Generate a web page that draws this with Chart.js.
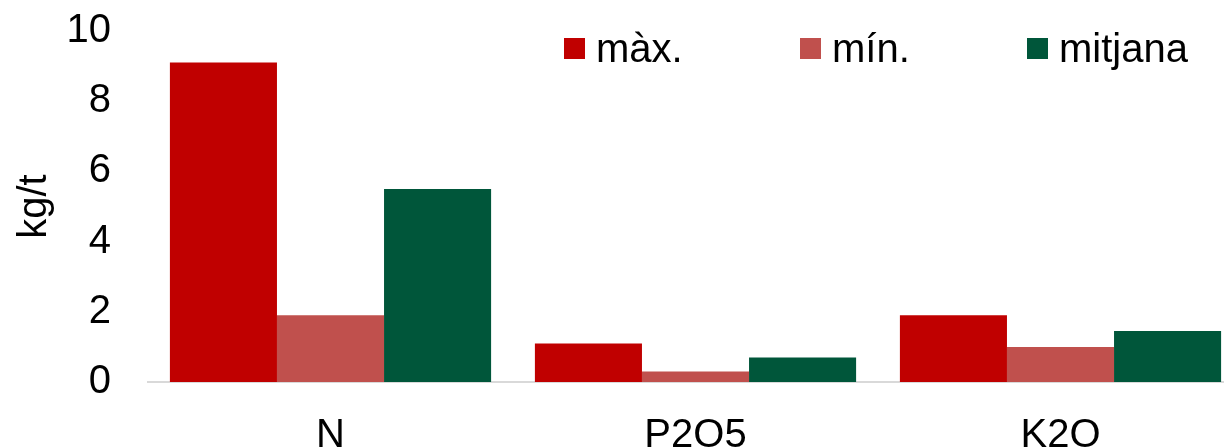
<!DOCTYPE html>
<html>
<head>
<meta charset="utf-8">
<script src="https://cdn.jsdelivr.net/npm/chart.js@4/dist/chart.umd.min.js"></script>
<style>
  html, body { margin: 0; padding: 0; background: #ffffff; overflow: hidden; }
  #wrap { position: relative; width: 1243px; height: 448px; }
</style>
</head>
<body>
<div id="wrap"><canvas id="chart"></canvas></div>
<script>
// Nutrient content per tonne
const categories = ['N', 'P2O5', 'K2O'];
const maxValues = [9.1, 1.1, 1.9];
const minValues = [1.9, 0.3, 1.0];
const meanValues = [5.5, 0.7, 1.45];
const seriesNames = ['màx.', 'mín.', 'mitjana'];
const seriesColors = ['#C00000', '#C0504D', '#00563A'];
const yTicks = [0, 2, 4, 6, 8, 10];
const yTitle = 'kg/t';

const FONT = 'Liberation Sans, Arial, sans-serif';

// Legend drawn inside the plot area, top right
const insideLegend = {
  id: 'insideLegend',
  afterDraw(chart) {
    const ctx = chart.ctx;
    const xs = [564, 800, 1027];
    ctx.save();
    ctx.font = '40px ' + FONT;
    ctx.textBaseline = 'alphabetic';
    ctx.textAlign = 'left';
    chart.data.datasets.forEach((ds, i) => {
      ctx.fillStyle = ds.backgroundColor;
      ctx.fillRect(xs[i], 38, 21, 21);
      ctx.fillStyle = '#000000';
      ctx.fillText(ds.label, xs[i] + 32, 62);
    });
    ctx.restore();
  }
};

new Chart(document.getElementById('chart'), {
  type: 'bar',
  data: {
    labels: categories,
    datasets: [
      { label: seriesNames[0], data: maxValues, backgroundColor: seriesColors[0] },
      { label: seriesNames[1], data: minValues, backgroundColor: seriesColors[1] },
      { label: seriesNames[2], data: meanValues, backgroundColor: seriesColors[2] }
    ]
  },
  options: {
    responsive: true,
    maintainAspectRatio: false,
    animation: false,
    layout: { padding: { top: 31, right: 0, left: 0, bottom: 0 } },
    datasets: {
      bar: {
        categoryPercentage: 0.88,
        barPercentage: 1.0,
        borderWidth: 0
      }
    },
    plugins: {
      legend: { display: false },
      tooltip: { enabled: false }
    },
    scales: {
      x: {
        grid: { display: false },
        border: { display: true, color: '#d9d9d9', width: 2 },
        ticks: { color: '#000000', font: { family: FONT, size: 40 }, padding: 22, maxRotation: 0 },
        afterFit(scale) {
          scale.height = 66;
          scale.paddingLeft = 0;
          scale.paddingRight = 0;
        }
      },
      y: {
        min: 0,
        max: 10,
        grid: { display: false },
        border: { display: false },
        afterBuildTicks(scale) { scale.ticks = yTicks.map(v => ({ value: v })); },
        ticks: { color: '#000000', font: { family: FONT, size: 40 }, padding: 29 },
        title: {
          display: true,
          text: yTitle,
          color: '#000000',
          font: { family: FONT, size: 40 },
          padding: { top: 11, bottom: 0 }
        },
        afterFit(scale) {
          scale.width = 148;
          scale.paddingTop = 0;
          scale.paddingBottom = 0;
        }
      }
    }
  },
  plugins: [insideLegend]
});
</script>
</body>
</html>
